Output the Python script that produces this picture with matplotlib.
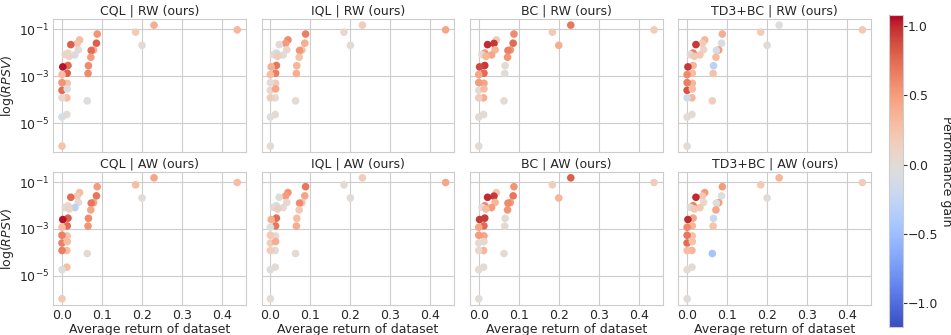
import matplotlib
matplotlib.use("Agg")
import matplotlib.pyplot as plt
import seaborn as sns
import numpy as np

sns.set_style("whitegrid")
plt.rcParams['font.family'] = ['DejaVu Sans']

# dataset statistics: average return and log10 of RPSV
avg_return = [0.438, 0.230, 0.184, 0.200, 0.088, 0.086, 0.079, 0.073, 0.072, 0.066,
              0.065, 0.063, 0.044, 0.038, 0.041, 0.022, 0.032, 0.015, 0.008, 0.018,
              0.015, 0.002, 0.013, 0.000, 0.013, 0.000, 0.000, 0.013, 0.012, 0.000,
              0.012, 0.000, 0.000]
log_rpsv = [-1.02, -0.82, -1.12, -1.68, -1.20, -1.59, -1.88, -1.90, -2.19, -2.55,
            -2.88, -4.05, -1.45, -1.60, -1.87, -1.65, -2.09, -2.01, -2.08, -2.15,
            -2.54, -2.60, -2.87, -2.93, -3.30, -3.27, -3.60, -3.54, -3.92, -3.92,
            -4.63, -4.74, -5.98]

algos = ["CQL", "IQL", "BC", "TD3+BC"]
weightings = ["RW", "AW"]

# performance gain per dataset, one list per (weighting, algorithm)
gain_cql_rw = [0.35, 0.40, 0.15, 0.00, 0.55, 0.80, 0.40, 0.75, 0.50, 0.60,
               0.60, -0.05, 0.30, 0.25, 0.00, 0.80, -0.10, 0.05, 0.10, 0.10,
               0.75, 1.05, 0.80, 0.30, 0.25, 0.55, 0.75, -0.05, 0.30, 0.05,
               0.00, -0.10, 0.25]
gain_cql_aw = [0.30, 0.45, 0.30, 0.00, 0.50, 0.70, 0.45, 0.70, 0.45, 0.60,
               0.55, 0.00, 0.30, 0.20, 0.00, 0.75, -0.30, 0.00, 0.05, 0.10,
               0.80, 1.05, 0.75, 0.30, 0.25, 0.65, 0.65, 0.30, 0.30, 0.65,
               0.30, -0.05, 0.20]
gain_iql_rw = [0.45, 0.15, 0.05, 0.00, 0.65, 0.40, 0.25, 0.55, 0.25, 0.35,
               0.40, 0.00, 0.60, 0.50, 0.05, 0.00, 0.00, -0.15, 0.00, 0.15,
               0.70, 0.40, 0.65, 0.30, 0.20, 0.00, 0.05, 0.45, 0.00, 0.15,
               0.00, -0.05, 0.00]
gain_iql_aw = [0.45, 0.15, 0.00, 0.00, 0.70, 0.45, 0.20, 0.60, 0.20, 0.30,
               0.40, 0.00, 0.55, 0.50, 0.05, 0.00, 0.00, -0.15, 0.00, 0.15,
               0.75, 0.40, 0.70, -0.05, 0.00, 0.20, 0.15, 0.40, 0.00, 0.15,
               0.00, -0.05, 0.00]
gain_bc_rw = [0.15, 0.70, 0.20, 0.40, 0.60, 0.75, 0.55, 0.65, 0.55, 0.00,
              0.00, 0.00, 0.20, 0.95, 0.35, 1.00, 0.45, 0.55, 0.00, 0.35,
              0.95, 0.90, 0.75, 0.45, 0.45, 0.50, 0.00, 0.30, 0.40, 0.15,
              0.00, 0.00, 0.00]
gain_bc_aw = [0.15, 0.80, 0.15, 0.35, 0.55, 0.70, 0.50, 0.60, 0.55, 0.00,
              0.00, 0.00, 0.20, 0.95, 0.35, 1.00, 0.50, 0.60, 0.00, 0.30,
              0.95, 0.95, 0.75, 0.45, 0.45, 0.50, 0.00, 0.05, 0.35, 0.05,
              0.00, 0.00, 0.00]
gain_td3_rw = [0.20, -0.05, 0.15, 0.00, 0.40, -0.10, 0.50, -0.10, 0.30, -0.30,
               0.25, 0.15, 0.35, 0.15, 0.10, 0.95, 0.20, 0.65, 0.00, 0.20,
               0.35, 0.95, 0.30, 0.60, 0.35, 0.65, 0.85, 0.30, 0.35, -0.15,
               0.00, 0.00, 0.00]
gain_td3_aw = [0.15, 0.35, 0.20, 0.00, 0.50, -0.05, 0.50, -0.05, 0.45, -0.20,
               0.25, -0.45, 0.50, 0.20, 0.05, 1.00, 0.20, 0.65, 0.00, 0.20,
               0.45, 1.00, 0.35, 0.60, 0.25, 0.70, 0.75, 0.25, 0.35, 0.30,
               0.00, 0.00, 0.00]

gains = {
    ("RW", "CQL"): gain_cql_rw, ("AW", "CQL"): gain_cql_aw,
    ("RW", "IQL"): gain_iql_rw, ("AW", "IQL"): gain_iql_aw,
    ("RW", "BC"): gain_bc_rw, ("AW", "BC"): gain_bc_aw,
    ("RW", "TD3+BC"): gain_td3_rw, ("AW", "TD3+BC"): gain_td3_aw,
}

vmin, vmax = -1.17, 1.08
x = np.array(avg_return)
y = 10.0 ** np.array(log_rpsv)
fs = 9

fig, axes = plt.subplots(2, 4, figsize=(9.51, 3.35), dpi=100, sharex=True, sharey=True)
fig.subplots_adjust(left=0.056, right=0.916, top=0.943, bottom=0.09,
                    wspace=0.081, hspace=0.147)

for i, w in enumerate(weightings):
    for j, a in enumerate(algos):
        ax = axes[i, j]
        sc = ax.scatter(x, y, c=gains[(w, a)], cmap="coolwarm", vmin=vmin, vmax=vmax,
                        s=30, edgecolors="none")
        ax.set_yscale("log")
        ax.set_title(f"{a} | {w} (ours)", fontsize=fs, pad=3)
        for sp in ax.spines.values():
            sp.set_color("#cccccc")
        ax.tick_params(length=0, labelsize=fs, pad=3)
        if j == 0:
            ax.set_ylabel("log($RPSV$)", fontsize=fs, labelpad=2)
        if i == 1:
            ax.set_xlabel("Average return of dataset", fontsize=fs, labelpad=1)

ax = axes[0, 0]
ax.set_yticks([1e-1, 1e-3, 1e-5])
ax.yaxis.set_minor_locator(matplotlib.ticker.NullLocator())
ax.set_xticks([0.0, 0.1, 0.2, 0.3, 0.4])
ax.set_xticklabels(["0.0", "0.1", "0.2", "0.3", "0.4"])

cax = fig.add_axes([0.935, 0.024, 0.0141, 0.931])
cb = fig.colorbar(sc, cax=cax)
cb.outline.set_edgecolor("#cccccc")
cb.set_ticks([-1.0, -0.5, 0.0, 0.5, 1.0])
cb.ax.tick_params(labelsize=fs, length=3, color="#333333", pad=1)
cb.set_label("Performance gain", rotation=270, labelpad=10, fontsize=fs)

fig.savefig("out.png", dpi=100)
